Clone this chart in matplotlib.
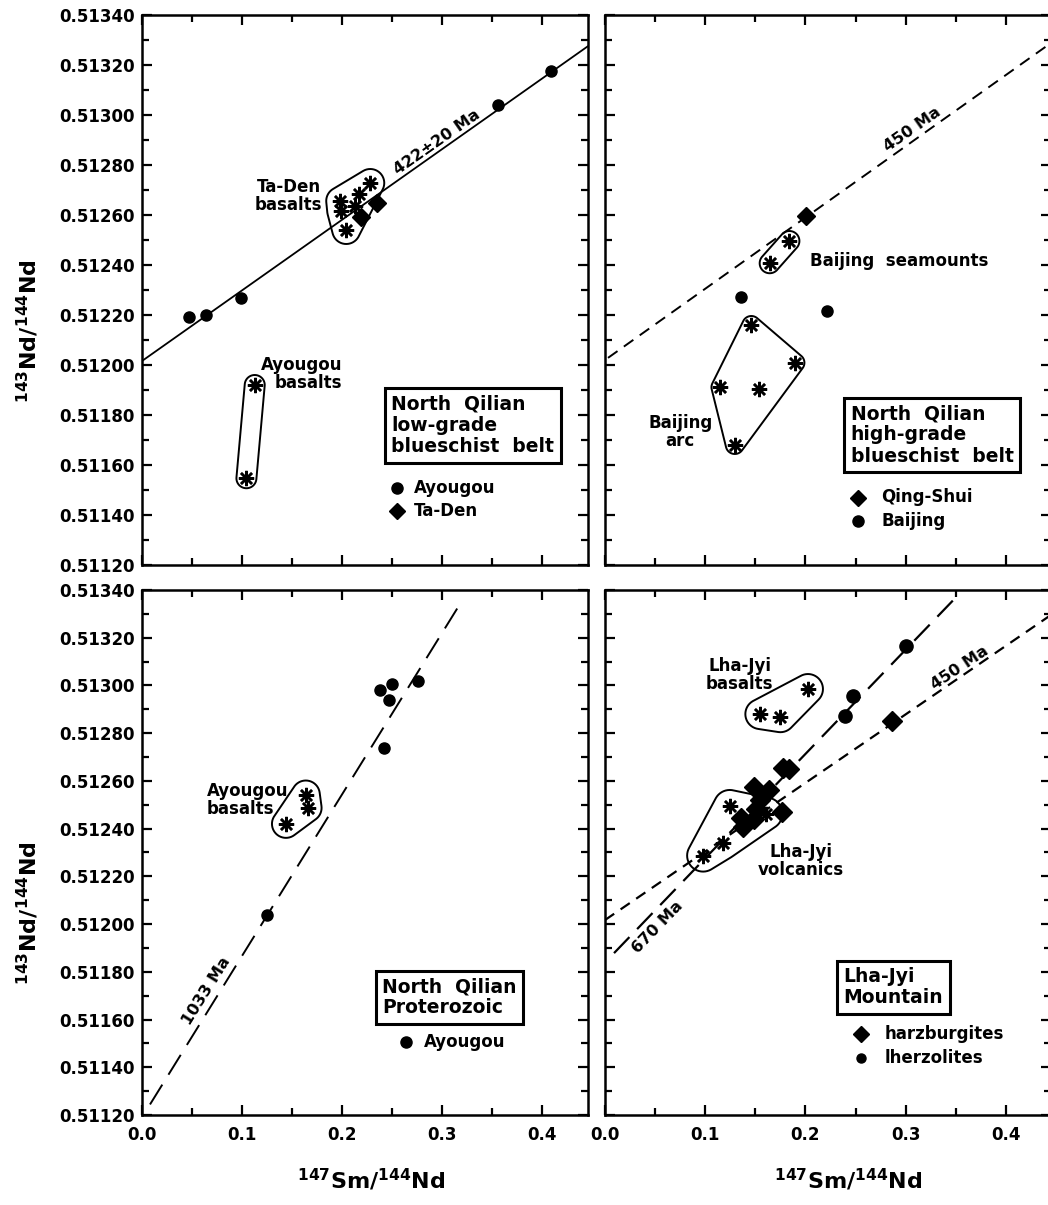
import numpy as np
import matplotlib
matplotlib.use("Agg")
import matplotlib.pyplot as plt
from matplotlib.patches import Polygon
from matplotlib.ticker import MultipleLocator, FormatStrFormatter

plt.rcParams['font.family'] = ['DejaVu Sans']
plt.rcParams['font.weight'] = 'bold'
plt.rcParams['mathtext.fontset'] = 'dejavusans'
plt.rcParams['mathtext.default'] = 'bf'

# ---- data: 147Sm/144Nd (x) and 143Nd/144Nd (y) ----
# North Qilian low-grade blueschist belt
tl_ayougou_x = [0.047, 0.064, 0.099, 0.356, 0.409]
tl_ayougou_y = [0.512192, 0.512200, 0.512268, 0.513039, 0.513174]
tl_taden_x = [0.219, 0.235]
tl_taden_y = [0.512593, 0.512649]
tl_taden_bas_x = [0.198, 0.199, 0.204, 0.213, 0.217, 0.228]
tl_taden_bas_y = [0.512656, 0.512616, 0.512540, 0.512636, 0.512684, 0.512728]
tl_ayo_bas_x = [0.1126, 0.1043]
tl_ayo_bas_y = [0.511920, 0.511547]
tl_iso = (0.512016, 0.002827)   # intercept, slope

# North Qilian high-grade blueschist belt
tr_qing_x = [0.2002]
tr_qing_y = [0.512596]
tr_baij_x = [0.1355, 0.222]
tr_baij_y = [0.512272, 0.512216]
tr_seam_x = [0.184, 0.1643]
tr_seam_y = [0.512496, 0.512407]
tr_arc_x = [0.146, 0.190, 0.1152, 0.1537, 0.1295]
tr_arc_y = [0.512160, 0.512009, 0.511911, 0.511903, 0.511680]
tr_iso = (0.512020, 0.00285)

# North Qilian Proterozoic
bl_ayougou_x = [0.1247, 0.238, 0.2494, 0.2467, 0.2418, 0.276]
bl_ayougou_y = [0.512040, 0.512982, 0.513004, 0.512938, 0.512739, 0.513020]
bl_bas_x = [0.1438, 0.1636, 0.1654]
bl_bas_y = [0.512420, 0.512543, 0.512487]
bl_iso = (0.511190, 0.006773)

# Lha-Jyi Mountain
br_lherz_x = [0.3005, 0.2473, 0.2390]
br_lherz_y = [0.513166, 0.512956, 0.512872]
br_harz_x = [0.2865, 0.1836, 0.1776, 0.1484, 0.1637, 0.1544, 0.151, 0.177, 0.136, 0.149, 0.138]
br_harz_y = [0.512852, 0.512648, 0.512656, 0.512575, 0.512563, 0.512520, 0.512482,
             0.512471, 0.512444, 0.512440, 0.512407]
br_volc_x = [0.1245, 0.1178, 0.0979, 0.161]
br_volc_y = [0.512495, 0.512338, 0.512287, 0.512463]
br_bas_x = [0.2025, 0.155, 0.175]
br_bas_y = [0.512985, 0.512880, 0.512867]
br_iso670 = (0.511839, 0.00437)
br_iso450 = (0.512017, 0.002873)

XLIM = (0.0, 0.445)
YLIM = (0.51120, 0.51340)

W, H = 1048, 1205
fig = plt.figure(figsize=(W / 100, H / 100), dpi=100)


def rect(x0, x1, y0, y1):
    return [x0 / W, 1 - y1 / H, (x1 - x0) / W, (y1 - y0) / H]


ax_tl = fig.add_axes(rect(142, 587.5, 15, 565))
ax_tr = fig.add_axes(rect(605, 1051, 15, 565))
ax_bl = fig.add_axes(rect(142, 587.5, 590, 1115))
ax_br = fig.add_axes(rect(605, 1051, 590, 1115))

for ax in (ax_tl, ax_tr, ax_bl, ax_br):
    ax.set_xlim(*XLIM)
    ax.set_ylim(*YLIM)
    for s in ax.spines.values():
        s.set_linewidth(1.8)
    ax.xaxis.set_major_locator(MultipleLocator(0.1))
    ax.xaxis.set_minor_locator(MultipleLocator(0.05))
    ax.yaxis.set_major_locator(MultipleLocator(0.0002))
    ax.yaxis.set_minor_locator(MultipleLocator(0.0001))
    ax.xaxis.set_major_formatter(FormatStrFormatter('%.1f'))
    ax.yaxis.set_major_formatter(FormatStrFormatter('%.5f'))
    ax.tick_params(which='both', direction='in', top=True, right=True, width=1.6)
    ax.tick_params(which='major', length=7)
    ax.tick_params(which='minor', length=5)
    ax.tick_params(axis='y', which='major', pad=5, labelsize=12)
    ax.tick_params(axis='x', which='major', pad=8, labelsize=12)

for ax in (ax_tl, ax_tr):
    ax.tick_params(axis='x', labelbottom=False)
for ax in (ax_tr, ax_br):
    ax.tick_params(axis='y', labelleft=False)


def isochron(ax, pars, x0, x1, **kw):
    xs = np.array([x0, x1])
    ax.plot(xs, pars[0] + pars[1] * xs, color='black', zorder=2, **kw)


def envelope(ax, xs, ys, r=10):
    # rounded hull around a group of samples, built in pixel space
    pts = ax.transData.transform(np.column_stack([xs, ys]))
    ang = np.linspace(0, 2 * np.pi, 48, endpoint=False)
    cloud = np.vstack([p + r * np.column_stack([np.cos(ang), np.sin(ang)]) for p in pts])
    cloud = sorted(map(tuple, cloud))

    def cross(o, a, b):
        return (a[0] - o[0]) * (b[1] - o[1]) - (a[1] - o[1]) * (b[0] - o[0])

    lower, upper = [], []
    for p in cloud:
        while len(lower) >= 2 and cross(lower[-2], lower[-1], p) <= 0:
            lower.pop()
        lower.append(p)
    for p in reversed(cloud):
        while len(upper) >= 2 and cross(upper[-2], upper[-1], p) <= 0:
            upper.pop()
        upper.append(p)
    hull = np.array(lower[:-1] + upper[:-1])
    hull = ax.transData.inverted().transform(hull)
    ax.add_patch(Polygon(hull, closed=True, fill=False, lw=1.4, ec='black', zorder=2))


def dots(ax, xs, ys, ms=8):
    ax.plot(xs, ys, 'o', color='black', ms=ms, zorder=4, clip_on=False)


def diamonds(ax, xs, ys, ms=9):
    ax.plot(xs, ys, 'D', color='black', ms=ms, zorder=4)


def stars(ax, xs, ys, ms=11):
    ax.plot(xs, ys, marker=(8, 2, 0), ls='none', color='black', ms=ms, mew=1.8, zorder=3)


def boxed(ax, x, y, txt):
    ax.text(x, y, txt, ha='left', va='center', fontsize=13.5, linespacing=1.15,
            bbox=dict(boxstyle='square,pad=0.35', fc='white', ec='black', lw=2.2), zorder=5)


# --- top left ---
isochron(ax_tl, tl_iso, 0.0, 0.445, lw=1.3)
envelope(ax_tl, tl_taden_bas_x, tl_taden_bas_y, r=14)
envelope(ax_tl, tl_ayo_bas_x, tl_ayo_bas_y, r=10)
stars(ax_tl, tl_taden_bas_x, tl_taden_bas_y)
stars(ax_tl, tl_ayo_bas_x, tl_ayo_bas_y)
dots(ax_tl, tl_ayougou_x, tl_ayougou_y)
diamonds(ax_tl, tl_taden_x, tl_taden_y, ms=9.5)
ax_tl.text(0.1465, 0.512676, 'Ta-Den\nbasalts', ha='center', va='center', fontsize=12, linespacing=1.0)
ax_tl.text(0.200, 0.511964, 'Ayougou\nbasalts', ha='right', va='center', fontsize=12,
           linespacing=1.0, multialignment='right')
ax_tl.text(0.295, 0.512892, '422±20 Ma', ha='center', va='center', fontsize=11.5, rotation=35)
boxed(ax_tl, 0.249, 0.511757, 'North  Qilian\nlow-grade\nblueschist  belt')
dots(ax_tl, [0.255], [0.511508])
diamonds(ax_tl, [0.255], [0.511416], ms=8.5)
ax_tl.text(0.272, 0.511508, 'Ayougou', va='center', fontsize=12)
ax_tl.text(0.272, 0.511416, 'Ta-Den', va='center', fontsize=12)

# --- top right ---
isochron(ax_tr, tr_iso, 0.003, 0.445, lw=1.4, dashes=(6, 4))
envelope(ax_tr, tr_seam_x, tr_seam_y, r=10)
envelope(ax_tr, tr_arc_x, tr_arc_y, r=9)
stars(ax_tr, tr_seam_x, tr_seam_y)
stars(ax_tr, tr_arc_x, tr_arc_y)
dots(ax_tr, tr_baij_x, tr_baij_y)
diamonds(ax_tr, tr_qing_x, tr_qing_y, ms=9.5)
ax_tr.text(0.2042, 0.512414, 'Baijing  seamounts', ha='left', va='center', fontsize=12)
ax_tr.text(0.0752, 0.511732, 'Baijing\narc', ha='center', va='center', fontsize=12, linespacing=1.0)
ax_tr.text(0.307, 0.512944, '450 Ma', ha='center', va='center', fontsize=11.5, rotation=35)
boxed(ax_tr, 0.245, 0.511720, 'North  Qilian\nhigh-grade\nblueschist  belt')
diamonds(ax_tr, [0.2523], [0.511470], ms=8.5)
dots(ax_tr, [0.2523], [0.511375])
ax_tr.text(0.276, 0.511470, 'Qing-Shui', va='center', fontsize=12)
ax_tr.text(0.276, 0.511375, 'Baijing', va='center', fontsize=12)

# --- bottom left ---
isochron(ax_bl, bl_iso, 0.008, 0.316, lw=1.4, dashes=(12, 6))
envelope(ax_bl, bl_bas_x, bl_bas_y, r=14)
stars(ax_bl, bl_bas_x, bl_bas_y)
dots(ax_bl, bl_ayougou_x, bl_ayougou_y)
ax_bl.text(0.0645, 0.512520, 'Ayougou\nbasalts', ha='left', va='center', fontsize=12, linespacing=1.0)
ax_bl.text(0.0645, 0.511721, '1033 Ma', ha='center', va='center', fontsize=11.5, rotation=58)
boxed(ax_bl, 0.240, 0.511693, 'North  Qilian\nProterozoic')
dots(ax_bl, [0.2635], [0.511505])
ax_bl.text(0.282, 0.511505, 'Ayougou', va='center', fontsize=12)

# --- bottom right ---
isochron(ax_br, br_iso670, 0.009, 0.349, lw=1.6, dashes=(10, 5))
isochron(ax_br, br_iso450, 0.0, 0.445, lw=1.6, dashes=(5, 3.5))
envelope(ax_br, br_bas_x, br_bas_y, r=15)
envelope(ax_br, br_volc_x, br_volc_y, r=16)
stars(ax_br, br_bas_x, br_bas_y)
stars(ax_br, br_volc_x, br_volc_y)
dots(ax_br, br_lherz_x, br_lherz_y, ms=9.5)
diamonds(ax_br, br_harz_x, br_harz_y, ms=10.5)
ax_br.text(0.1345, 0.513044, 'Lha-Jyi\nbasalts', ha='center', va='center', fontsize=12, linespacing=1.0)
ax_br.text(0.1957, 0.512264, 'Lha-Jyi\nvolcanics', ha='center', va='center', fontsize=12, linespacing=1.0)
ax_br.text(0.0528, 0.511987, '670 Ma', ha='center', va='center', fontsize=11.5, rotation=46)
ax_br.text(0.3536, 0.513073, '450 Ma', ha='center', va='center', fontsize=11.5, rotation=34)
boxed(ax_br, 0.238, 0.511735, 'Lha-Jyi\nMountain')
diamonds(ax_br, [0.2557], [0.511540], ms=8.5)
dots(ax_br, [0.2557], [0.511439], ms=6.5)
ax_br.text(0.279, 0.511540, 'harzburgites', va='center', fontsize=12)
ax_br.text(0.279, 0.511439, 'lherzolites', va='center', fontsize=12)

# axis titles
ylab = r'$^{143}$Nd$/$$^{144}$Nd'
xlab = r'$^{147}$Sm$/$$^{144}$Nd'
fig.text(28 / W, 1 - 331 / H, ylab, rotation=90, ha='center', va='center', fontsize=16)
fig.text(28 / W, 1 - 913 / H, ylab, rotation=90, ha='center', va='center', fontsize=16)
fig.text(371 / W, 1 - 1180 / H, xlab, ha='center', va='center', fontsize=16)
fig.text(848 / W, 1 - 1180 / H, xlab, ha='center', va='center', fontsize=16)

fig.savefig('out.png', dpi=100)
